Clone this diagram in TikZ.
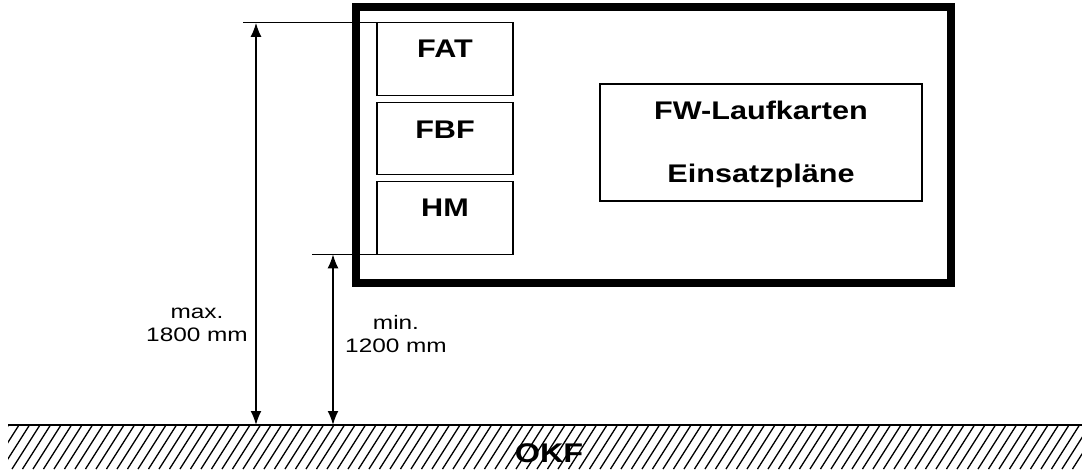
\documentclass[tikz,border=0pt]{standalone}
\usepackage{fontspec}
\setmainfont[FakeStretch=1.25]{Liberation Sans}
\newfontfamily\boxfont[FakeStretch=1.2]{Liberation Sans}
\usetikzlibrary{arrows.meta,positioning}

\tikzset{
  frame/.style={draw, line width=8pt},
  panel/.style={draw, line width=1.3pt, minimum width=136pt, minimum height=72.5pt, inner sep=0pt, outer sep=0pt},
  lbl/.style={font=\boxfont\bfseries\fontsize{25.5}{30}\selectfont, inner sep=0pt, anchor=base},
  dim/.style={line width=1.8pt, {Latex[length=14pt,width=11pt]}-{Latex[length=14pt,width=11pt]}},
  extline/.style={line width=1.2pt},
  note/.style={font=\fontsize{19.5}{23.5}\selectfont, align=center, inner sep=0pt},
  hatch/.style={line width=1.3pt},
}

\begin{document}
\begin{tikzpicture}[x=1pt, y=-1pt]
  \useasboundingbox (0,0) rectangle (1082,475);

  % cabinet
  \draw[frame] (356,7) rectangle (951,283);

  \node[panel] (fat) at (445,59) {};
  \node[panel, below=7pt of fat] (fbf) {};
  \node[panel, below=7pt of fbf] (hm) {};
  \node[panel, minimum width=322pt, minimum height=117pt] (fw) at (761,142.5) {};

  \node[lbl] (fatlbl) at ([yshift=-35pt]fat.north) {FAT};
  \node[lbl] (fbflbl) at ([yshift=-36pt]fbf.north) {FBF};
  \node[lbl] (hmlbl) at ([yshift=-35pt]hm.north) {HM};
  \node[lbl] (fwlbl) at ([yshift=-35pt]fw.north) {FW-Laufkarten};
  \node[lbl] (planlbl) at ([yshift=19pt]fw.south) {Einsatzpläne};

  % floor
  \coordinate (ground) at (8,425);
  \begin{scope}
    \clip (8,425) rectangle (1082,469);
    \foreach \i in {0,...,106}
      \draw[hatch] (\i*10.5-30,469) -- ++(28,-44);
  \end{scope}
  \draw[line width=2pt] (ground) -- (1082,425);
  \node[font=\boxfont\bfseries\fontsize{27}{32}\selectfont, inner sep=0pt, anchor=base] (okf) at (549,462) {OKF};

  % dimensions
  \coordinate (maxext) at (243,0);
  \coordinate (minext) at (312,0);
  \coordinate (maxdim) at (256,0);
  \coordinate (mindim) at (333,0);
  \draw[extline] (fat.north west) -- (maxext |- fat.north west);
  \draw[extline] (hm.south west) -- (minext |- hm.south west);

  \draw[dim] (maxdim |- fat.north west) -- (maxdim |- ground);
  \draw[dim] (mindim |- hm.south west) -- (mindim |- ground);

  \node[note] (maxnote) at (197,325) {max.\\1800 mm};
  \node[note] (minnote) at (396,334) {min.\\1200 mm};
\end{tikzpicture}
\end{document}
